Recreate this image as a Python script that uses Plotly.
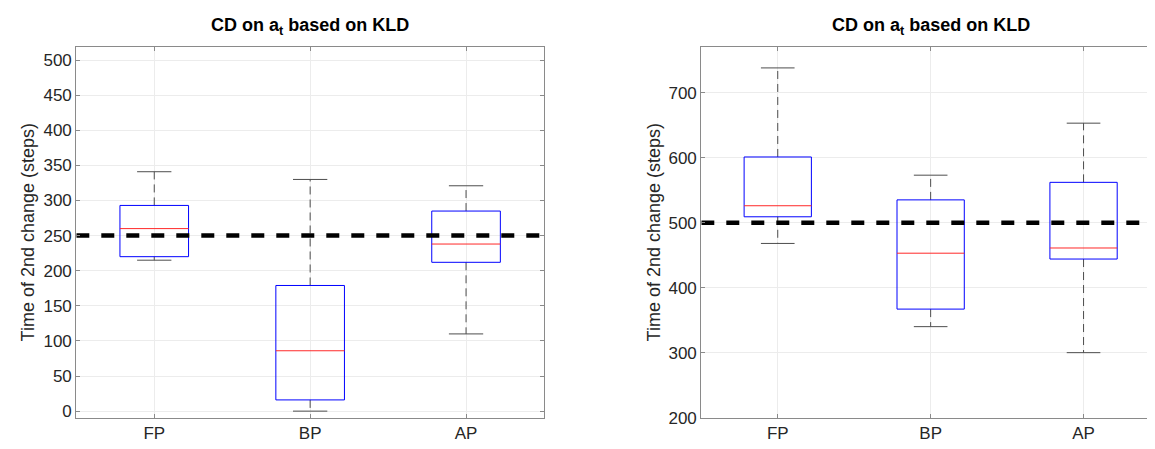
import plotly.graph_objects as go

# ---------------- data ----------------
categories = ["FP", "BP", "AP"]

left_lower = [215, 0, 110]
left_q1 = [220, 16, 212]
left_median = [260, 86, 238]
left_q3 = [293, 179, 285]
left_upper = [341, 330, 321]
left_ref = 250

right_lower = [468, 340, 300]
right_q1 = [509, 367, 444]
right_median = [526, 453, 461]
right_q3 = [601, 535, 562]
right_upper = [738, 573, 653]
right_ref = 500

title_text = "<b>CD on a<sub>t</sub> based on KLD</b>"
ytitle_text = "Time of 2nd change (steps)"

# ---------------- style ----------------
FONT = "Liberation Sans, Arial, Helvetica, sans-serif"
TXT = "#262626"
BOX_HW = 0.22
CAP_HW = 0.11
W = 1155
H = 449
AX_COLOR = "#8a8a8a"
GRID = "#ececec"

fig = go.Figure()


def add_boxes(lower, q1, med, q3, upper, ref, xa, ya):
    pos = list(range(1, len(categories) + 1))
    bx, by, mx, my, wx, wy, cx, cy = [], [], [], [], [], [], [], []
    for c, lo, a, m, b, up in zip(pos, lower, q1, med, q3, upper):
        bx += [c - BOX_HW, c + BOX_HW, c + BOX_HW, c - BOX_HW, c - BOX_HW, None]
        by += [a, a, b, b, a, None]
        mx += [c - BOX_HW, c + BOX_HW, None]
        my += [m, m, None]
        wx += [c, c, None, c, c, None]
        wy += [b, up, None, a, lo, None]
        cx += [c - CAP_HW, c + CAP_HW, None, c - CAP_HW, c + CAP_HW, None]
        cy += [up, up, None, lo, lo, None]
    common = dict(xaxis=xa, yaxis=ya, mode="lines", showlegend=False, hoverinfo="skip")
    fig.add_trace(go.Scatter(x=wx, y=wy, line=dict(color="#4d4d4d", width=1, dash="8px,5px"), **common))
    fig.add_trace(go.Scatter(x=cx, y=cy, line=dict(color="#4d4d4d", width=1), **common))
    fig.add_trace(go.Scatter(x=bx, y=by, line=dict(color="rgb(0,0,255)", width=1), **common))
    fig.add_trace(go.Scatter(x=mx, y=my, line=dict(color="rgb(255,40,40)", width=1), **common))
    fig.add_trace(go.Scatter(x=[0.5, len(categories) + 0.5], y=[ref, ref],
                             line=dict(color="black", width=4.5, dash="13px,12px"), **common))


add_boxes(left_lower, left_q1, left_median, left_q3, left_upper, left_ref, "x", "y")
add_boxes(right_lower, right_q1, right_median, right_q3, right_upper, right_ref, "x2", "y2")

xdom1 = [68.3 / W, 536 / W]
xdom2 = [693.3 / W, 1152 / W]
ydom = [30 / H, 409 / H]

axis_common = dict(
    showline=True, linecolor=AX_COLOR, linewidth=1.2, mirror="ticks",
    ticks="inside", ticklen=4, tickcolor=AX_COLOR, tickwidth=1,
    showgrid=True, gridcolor=GRID, gridwidth=1, zeroline=False,
    tickfont=dict(family=FONT, size=17, color=TXT),
)

fig.update_layout(
    width=W, height=H,
    margin=dict(l=0, r=0, t=0, b=0),
    paper_bgcolor="white", plot_bgcolor="white",
    xaxis=dict(domain=xdom1, anchor="y", range=[0.5, 3.5], tickmode="array",
               tickvals=[1, 2, 3], ticktext=categories, **axis_common),
    yaxis=dict(domain=ydom, anchor="x", range=[-9.3, 518.5], tick0=0, dtick=50, **axis_common),
    xaxis2=dict(domain=xdom2, anchor="y2", range=[0.5, 3.5], tickmode="array",
                tickvals=[1, 2, 3], ticktext=categories, **axis_common),
    yaxis2=dict(domain=ydom, anchor="x2", range=[200, 770], tick0=200, dtick=100, **axis_common),
)

for dom in (xdom1, xdom2):
    fig.add_annotation(text=title_text, xref="paper", yref="paper",
                       x=(dom[0] + dom[1]) / 2, y=1 - 19 / H, xanchor="center", yanchor="middle",
                       showarrow=False, font=dict(family=FONT, size=18, color="black"))

for xpix in (20, 646):
    fig.add_annotation(text=ytitle_text, xref="paper", yref="paper",
                       x=xpix / W, y=(ydom[0] + ydom[1]) / 2, xanchor="center", yanchor="middle",
                       textangle=-90, showarrow=False,
                       font=dict(family=FONT, size=18, color=TXT))

fig.write_html("out.html")
